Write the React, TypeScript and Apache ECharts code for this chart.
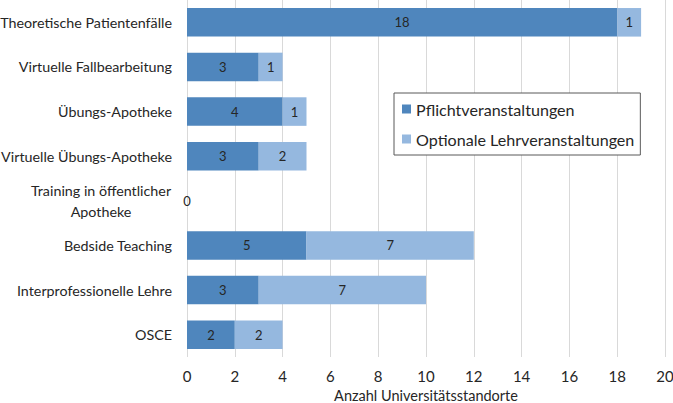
import React, { useEffect, useRef } from "react";
import * as echarts from "echarts";

const categories = [
  "Theoretische Patientenfälle",
  "Virtuelle Fallbearbeitung",
  "Übungs-Apotheke",
  "Virtuelle Übungs-Apotheke",
  "Training in öffentlicher\nApotheke",
  "Bedside Teaching",
  "Interprofessionelle Lehre",
  "OSCE",
];
const pflicht = [18, 3, 4, 3, 0, 5, 3, 2];
const optional = [1, 1, 1, 2, 0, 7, 7, 2];
const xTicks = { min: 0, max: 20, interval: 2 };

const FONT = "Lato";
const TXT = "#262626";

export default function App() {
  const ref = useRef<HTMLDivElement>(null);
  useEffect(() => {
    if (!ref.current) return;
    const chart = echarts.init(ref.current, undefined, { renderer: "svg" });
    const cats = [...categories].reverse();
    const p = [...pflicht].reverse();
    const o = [...optional].reverse();
    chart.setOption({
      animation: false,
      textStyle: { fontFamily: FONT },
      grid: { left: 187, right: 8, top: 0, bottom: 46, containLabel: false, outerBoundsMode: "none" },
      legend: {
        orient: "vertical",
        left: 394,
        top: 93,
        itemWidth: 9,
        itemHeight: 9,
        itemGap: 14,
        padding: [8, 6, 8, 8],
        borderColor: "#595959",
        borderWidth: 1,
        backgroundColor: "#fff",
        icon: "rect",
        textStyle: { fontFamily: FONT, fontSize: 16.1, color: TXT, padding: [0, 0, 0, 0] },
        data: ["Pflichtveranstaltungen", "Optionale Lehrveranstaltungen"],
      },
      xAxis: {
        type: "value",
        min: xTicks.min,
        max: xTicks.max,
        interval: xTicks.interval,
        name: "Anzahl Universitätsstandorte",
        nameLocation: "middle",
        nameGap: 29,
        nameTextStyle: { fontFamily: FONT, fontSize: 14.5, color: TXT },
        axisLine: { show: false },
        axisTick: { show: false },
        axisLabel: { fontFamily: FONT, fontSize: 15, color: TXT, margin: 11 },
        splitLine: { show: true, lineStyle: { color: "#d9d9d9", width: 1 } },
      },
      yAxis: {
        type: "category",
        data: cats,
        axisLine: { show: false },
        axisTick: { show: false },
        axisLabel: {
          fontFamily: FONT,
          fontSize: 14.3,
          color: TXT,
          margin: 15,
          formatter: (v: string) => {
            if (v.indexOf("\n") >= 0) {
              return v
                .split("\n")
                .map((l) => "{c|" + l + "}")
                .join("\n");
            }
            return v;
          },
          rich: {
            c: { width: 142, align: "center", fontFamily: FONT, fontSize: 14.3, color: TXT, lineHeight: 21 },
          },
        },
      },
      series: [
        {
          name: "Pflichtveranstaltungen",
          type: "bar",
          stack: "s",
          barCategoryGap: "36%",
          itemStyle: { color: "#4f86bd" },
          label: { show: true, position: "inside", color: TXT, fontFamily: FONT, fontSize: 13 },
          data: p,
        },
        {
          name: "Optionale Lehrveranstaltungen",
          type: "bar",
          stack: "s",
          barCategoryGap: "36%",
          itemStyle: { color: "#95b8df" },
          label: { show: true, position: "inside", color: TXT, fontFamily: FONT, fontSize: 13 },
          data: o.map((v) => (v === 0 ? { value: v, label: { show: false } } : v)),
        },
      ],
    });
    return () => chart.dispose();
  }, []);
  return (
    <div
      ref={ref}
      style={{ position: "fixed", left: 0, top: 0, width: 673, height: 403, background: "#fff" }}
    />
  );
}
